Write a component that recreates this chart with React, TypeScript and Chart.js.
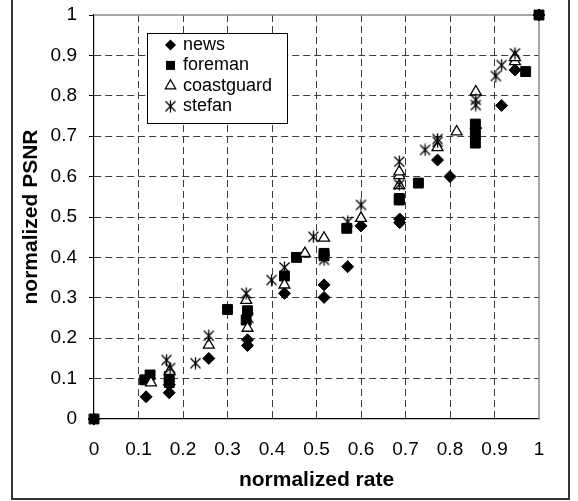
import React, { useEffect, useRef } from 'react';
import { Chart, registerables } from 'chart.js';

Chart.register(...registerables);

const seriesNames = ['news', 'foreman', 'coastguard', 'stefan'];

const newsX = [0, 0.117, 0.169, 0.169, 0.258, 0.345, 0.345, 0.428, 0.517, 0.517, 0.57, 0.6, 0.687, 0.687, 0.772, 0.8, 0.858, 0.916, 0.946, 1];
const newsY = [0, 0.055, 0.065, 0.085, 0.15, 0.182, 0.196, 0.311, 0.301, 0.332, 0.377, 0.478, 0.486, 0.495, 0.641, 0.6, 0.72, 0.776, 0.864, 1];

const foremanX = [0, 0.114, 0.126, 0.169, 0.169, 0.3, 0.342, 0.345, 0.428, 0.455, 0.517, 0.517, 0.568, 0.686, 0.686, 0.729, 0.857, 0.857, 0.857, 0.97, 1];
const foremanY = [0, 0.097, 0.109, 0.105, 0.09, 0.271, 0.245, 0.268, 0.354, 0.4, 0.41, 0.404, 0.472, 0.546, 0.542, 0.584, 0.73, 0.706, 0.683, 0.86, 1];

const coastX = [0.128, 0.17, 0.258, 0.345, 0.342, 0.428, 0.474, 0.517, 0.6, 0.686, 0.686, 0.686, 0.772, 0.815, 0.858, 0.946, 0.946];
const coastY = [0.09, 0.118, 0.183, 0.225, 0.294, 0.332, 0.41, 0.448, 0.497, 0.578, 0.603, 0.612, 0.672, 0.711, 0.81, 0.885, 0.895];

const stefanX = [0.163, 0.171, 0.228, 0.258, 0.342, 0.347, 0.399, 0.428, 0.493, 0.517, 0.57, 0.6, 0.686, 0.686, 0.744, 0.772, 0.772, 0.858, 0.858, 0.903, 0.916, 0.946];
const stefanY = [0.146, 0.126, 0.138, 0.206, 0.311, 0.25, 0.344, 0.375, 0.451, 0.394, 0.488, 0.53, 0.637, 0.58, 0.666, 0.686, 0.693, 0.777, 0.79, 0.849, 0.876, 0.905];

const axisMin = 0;
const axisMax = 1;
const axisStep = 0.1;
const xTitle = 'normalized rate';
const yTitle = 'normalized PSNR';

const FONT = '"Liberation Sans", Arial, sans-serif';

function pts(xs: number[], ys: number[]) {
  return xs.map((x, i) => ({ x, y: ys[i] }));
}

function fmt(v: any) {
  return String(Number(Number(v).toFixed(1)));
}

function makeAsterisk(size: number, lw: number) {
  const c = document.createElement('canvas');
  c.width = size;
  c.height = size;
  const g = c.getContext('2d')!;
  g.strokeStyle = '#000';
  g.lineWidth = lw;
  const m = 1.5;
  g.beginPath();
  g.moveTo(m, m);
  g.lineTo(size - m, size - m);
  g.moveTo(size - m, m);
  g.lineTo(m, size - m);
  g.moveTo(size / 2, 0.5);
  g.lineTo(size / 2, size - 0.5);
  g.stroke();
  return c;
}

export default function App() {
  const ref = useRef<HTMLCanvasElement | null>(null);

  useEffect(() => {
    const canvas = ref.current;
    if (!canvas) return;
    const star = makeAsterisk(13, 1.3);

    const drawMarker = (ctx: CanvasRenderingContext2D, kind: number, x: number, y: number) => {
      ctx.save();
      ctx.fillStyle = '#000';
      ctx.strokeStyle = '#000';
      ctx.lineWidth = 1.3;
      ctx.beginPath();
      if (kind === 0) {
        const r = 5.5;
        ctx.moveTo(x - r, y);
        ctx.lineTo(x, y - r);
        ctx.lineTo(x + r, y);
        ctx.lineTo(x, y + r);
        ctx.closePath();
        ctx.fill();
      } else if (kind === 1) {
        ctx.rect(x - 4.5, y - 4.5, 9, 9);
        ctx.fill();
      } else if (kind === 2) {
        const r = 6;
        ctx.moveTo(x, y - r);
        ctx.lineTo(x + r * 0.866, y + r / 2);
        ctx.lineTo(x - r * 0.866, y + r / 2);
        ctx.closePath();
        ctx.fillStyle = '#fff';
        ctx.fill();
        ctx.stroke();
      } else {
        ctx.drawImage(star, x - star.width / 2, y - star.height / 2);
      }
      ctx.restore();
    };

    const frame = {
      id: 'frame',
      beforeDatasetsDraw(chart: any) {
        const { ctx, chartArea } = chart;
        const ca = chartArea;
        ctx.save();
        ctx.strokeStyle = '#8a8a8a';
        ctx.lineWidth = 1.5;
        ctx.beginPath();
        ctx.moveTo(ca.left, ca.top);
        ctx.lineTo(ca.right, ca.top);
        ctx.lineTo(ca.right, ca.bottom);
        ctx.stroke();
        ctx.restore();
      },
      afterDraw(chart: any) {
        const { ctx, chartArea } = chart;
        const ca = chartArea;
        ctx.save();
        const lx = ca.left + 53;
        const ly = ca.top + 18;
        const lw = 140;
        const lh = 90;
        ctx.fillStyle = '#fff';
        ctx.fillRect(lx, ly, lw, lh);
        ctx.strokeStyle = '#000';
        ctx.lineWidth = 1;
        ctx.strokeRect(lx + 0.5, ly + 0.5, lw, lh);
        ctx.font = '18px ' + FONT;
        ctx.textBaseline = 'middle';
        ctx.textAlign = 'left';
        seriesNames.forEach((name, i) => {
          const yy = ly + 12 + i * 20.4;
          drawMarker(ctx, i, lx + 23.5, yy);
          ctx.fillStyle = '#000';
          ctx.fillText(name, lx + 36, yy);
        });

        ctx.strokeStyle = '#333';
        ctx.lineWidth = 2;
        ctx.strokeRect(12, -5, 557, 504);
        ctx.restore();
      },
    };

    const gridColor = (c: any) =>
      c.tick && (Math.abs(c.tick.value - axisMin) < 1e-9 || Math.abs(c.tick.value - axisMax) < 1e-9)
        ? 'rgba(0,0,0,0)'
        : '#3c3c3c';

    const common = { clip: false as any };

    const chart = new Chart(canvas, {
      type: 'scatter',
      data: {
        datasets: [
          {
            ...common,
            label: seriesNames[0],
            data: pts(newsX, newsY),
            pointStyle: 'rectRot',
            pointRadius: 6,
            backgroundColor: '#000',
            borderColor: '#000',
            borderWidth: 1,
            order: 3,
          },
          {
            ...common,
            label: seriesNames[1],
            data: pts(foremanX, foremanY),
            pointStyle: 'rect',
            pointRadius: 7,
            backgroundColor: '#000',
            borderColor: '#000',
            borderWidth: 1,
            order: 2,
          },
          {
            ...common,
            label: seriesNames[2],
            data: pts(coastX, coastY),
            pointStyle: 'triangle',
            pointRadius: 6.3,
            backgroundColor: '#fff',
            borderColor: '#000',
            borderWidth: 1.3,
            order: 1,
          },
          {
            ...common,
            label: seriesNames[3],
            data: pts(stefanX, stefanY),
            pointStyle: star as any,
            pointRadius: 6,
            backgroundColor: '#000',
            borderColor: '#000',
            order: 0,
          },
        ],
      },
      options: {
        animation: false,
        responsive: false,
        maintainAspectRatio: false,
        layout: { padding: { left: 0, top: 15, right: 39, bottom: 0 } },
        plugins: {
          legend: { display: false },
          tooltip: { enabled: false },
        },
        scales: {
          x: {
            type: 'linear',
            min: axisMin,
            max: axisMax,
            afterFit: (s: any) => {
              s.height = 82;
              s.paddingLeft = 0;
              s.paddingRight = 0;
              s.paddingTop = 0;
              s.paddingBottom = 0;
            },
            ticks: {
              stepSize: axisStep,
              color: '#000',
              font: { family: FONT, size: 19 },
              padding: 19.6,
              maxRotation: 0,
              autoSkip: false,
              callback: fmt,
            },
            grid: {
              color: gridColor,
              lineWidth: 1,
              drawTicks: false,
            },
            border: { display: true, color: '#000', width: 1.2, dash: [7, 4] },
            title: {
              display: true,
              text: xTitle,
              color: '#000',
              font: { family: FONT, size: 21, weight: 'bold' },
              padding: { top: 0, bottom: 8.4 },
            },
          },
          y: {
            type: 'linear',
            min: axisMin,
            max: axisMax,
            afterFit: (s: any) => {
              s.width = 94;
              s.paddingLeft = 0;
              s.paddingRight = 0;
              s.paddingTop = 0;
              s.paddingBottom = 0;
            },
            ticks: {
              stepSize: axisStep,
              color: '#000',
              font: { family: FONT, size: 19 },
              padding: 12,
              autoSkip: false,
              callback: fmt,
            },
            grid: {
              color: gridColor,
              lineWidth: 1,
              drawTicks: true,
              tickLength: 5,
              tickColor: '#000',
              tickBorderDash: [],
            },
            border: { display: true, color: '#000', width: 1.2, dash: [7, 4] },
            title: {
              display: true,
              text: yTitle,
              color: '#000',
              font: { family: FONT, size: 21, weight: 'bold' },
              padding: { top: 18.4, bottom: 0 },
            },
          },
        },
      },
      plugins: [frame],
    } as any);

    return () => chart.destroy();
  }, []);

  return (
    <div style={{ position: 'fixed', left: 0, top: 0, width: 578, height: 501, background: '#fff' }}>
      <canvas ref={ref} width={578} height={501} style={{ width: 578, height: 501, display: 'block' }} />
    </div>
  );
}
